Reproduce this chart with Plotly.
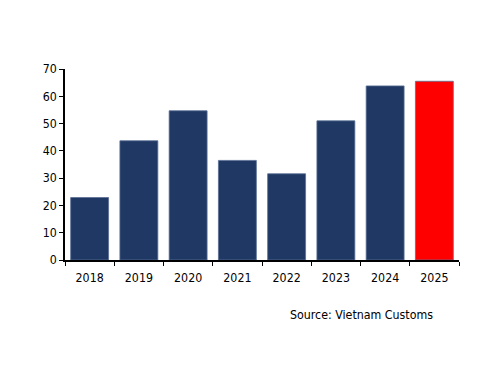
import plotly.graph_objects as go

years = ["2018", "2019", "2020", "2021", "2022", "2023", "2024", "2025"]
values = [22.9, 43.7, 54.7, 36.5, 31.6, 51.0, 63.8, 65.5]
colors = ["#1f3864"] * 7 + ["#ff0000"]
y_ticks = [0, 10, 20, 30, 40, 50, 60, 70]
source_text = "Source: Vietnam Customs"

FONT = "DejaVu Sans Condensed, DejaVu Sans, sans-serif"

fig = go.Figure(go.Bar(
    x=years, y=values,
    marker=dict(color=colors, line=dict(width=0.8, color="#5a6e94")),
    width=0.77,
))

fig.update_layout(
    width=500, height=386,
    margin=dict(l=57, r=49, t=61, b=134),
    paper_bgcolor="white", plot_bgcolor="white",
    showlegend=False,
    font=dict(family=FONT, size=12.3, color="#000000"),
    xaxis=dict(
        type="category",
        showline=True, linecolor="#000000", linewidth=1.5,
        ticks="outside", tickson="boundaries", ticklen=4, tickwidth=1.2, tickcolor="#000000",
        showgrid=False, zeroline=False,
        ticklabelstandoff=5,
        tickfont=dict(family=FONT, size=12.3),
    ),
    yaxis=dict(
        range=[0, 70], tickvals=y_ticks,
        showline=True, linecolor="#000000", linewidth=1.5,
        ticks="outside", ticklen=4, tickwidth=1.2, tickcolor="#000000",
        showgrid=False, zeroline=False,
        tickfont=dict(family=FONT, size=12.3),
    ),
    annotations=[dict(
        text=source_text, xref="paper", yref="paper",
        x=0.939, y=-0.288, xanchor="right", yanchor="middle",
        showarrow=False, font=dict(family=FONT, size=12.3, color="#000000"),
    )],
)

fig.write_html("out.html")
